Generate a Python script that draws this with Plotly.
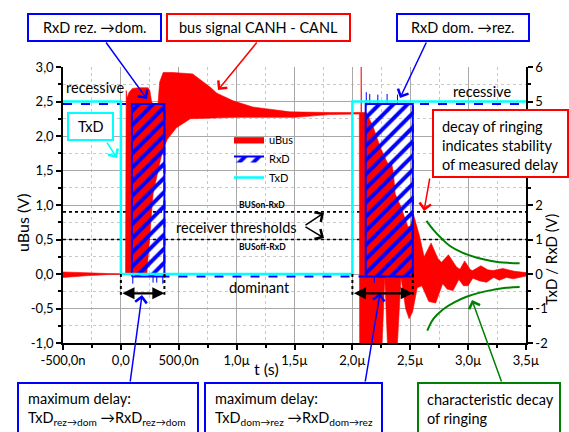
import plotly.graph_objects as go

# ---------------- data (time in µs, voltages in V) ----------------
# uBus = CANH - CANL, drawn as the envelope (max / min) of the dense ringing signal
ubus_t_max = [-0.5, -0.3, -0.1, 0.04, 0.046, 0.055, 0.07, 0.10, 0.16, 0.235, 0.25, 0.265, 0.28, 0.32,
              0.335, 0.365, 0.45, 0.62, 0.70, 0.77, 0.83, 0.97, 1.14, 1.46, 1.8, 2.074, 2.076, 2.079,
              2.12, 2.18, 2.24, 2.30, 2.325, 2.34, 2.355, 2.37, 2.42, 2.48, 2.50, 2.53, 2.58, 2.62,
              2.68, 2.74, 2.77, 2.83, 2.90, 2.93, 2.97, 3.02, 3.04, 3.11, 3.17, 3.215, 3.30, 3.33,
              3.40, 3.50]
ubus_max = [0.03, 0.015, 0.006, 0.004, 2.66, 2.55, 2.63, 2.69, 2.70, 2.70, 2.66, 2.50, 2.45, 2.45,
            2.78, 2.92, 2.92, 2.90, 2.80, 2.71, 2.62, 2.51, 2.42, 2.35, 2.34, 2.34, 3.2, 2.34,
            2.34, 2.13, 1.84, 1.62, 1.57, 1.60, 1.45, 1.16, 0.97, 0.68, 0.70, 0.85, 0.55, 0.25,
            0.45, 0.22, 0.17, 0.28, 0.10, 0.07, 0.19, 0.06, 0.05, 0.12, 0.06, 0.05, 0.08, 0.07,
            0.04, 0.02]
ubus_t_min = [-0.5, -0.3, -0.1, 0.04, 0.046, 0.224, 0.278, 0.34, 0.365, 0.40, 0.48, 0.60, 1.0, 1.5,
              1.8, 2.06, 2.063, 2.25, 2.28, 2.31, 2.38, 2.42, 2.46, 2.49, 2.52, 2.56, 2.60, 2.66,
              2.72, 2.78, 2.82, 2.87, 2.92, 2.96, 3.00, 3.04, 3.10, 3.16, 3.22, 3.27, 3.33, 3.39, 3.50]
ubus_min = [-0.05, -0.025, -0.008, -0.004, 0.0, 0.0, 1.16, 1.64, 1.80, 1.95, 2.12, 2.25, 2.27, 2.27,
            2.31, 2.32, -1.3, -1.3, -0.05, -1.3, -1.3, -0.05, -0.5, -0.65, -0.55, -0.2, -0.17, -0.4,
            -0.42, -0.14, -0.22, -0.24, -0.08, -0.17, -0.17, -0.06, -0.1, -0.12, -0.05, -0.09,
            -0.05, -0.07, -0.03]

# TxD and RxD (right axis)
txd_t = [-0.5, 0.0, 0.0, 2.0, 2.0, 3.5]
txd_v = [5.0, 5.0, 0.0, 0.0, 5.0, 5.0]
rxd_t = [-0.5, 0.376, 0.376, 2.522, 2.522, 3.5]
rxd_v = [4.93, 4.93, -0.07, -0.07, 4.93, 4.93]
rxd_win_start = [0.095, 2.115]
rxd_win_end = [0.376, 2.522]
rxd_win_high = 4.93
rxd_win_low = -0.07
rxd_glitch_t = [0.103, 0.278, 0.31, 0.362, 2.19, 2.12, 2.15, 2.22, 2.30, 2.39]
rxd_glitch_v = [-0.28, -0.25, -0.25, -0.28, -0.25, 5.27, 5.22, 5.2, 5.22, 5.2]

# characteristic decay of ringing (green guide curves)
green_up_t = [2.64, 2.70, 2.78, 2.84, 2.95, 3.07, 3.17, 3.27, 3.36, 3.445]
green_up_v = [0.77, 0.64, 0.50, 0.41, 0.31, 0.24, 0.20, 0.17, 0.16, 0.155]
green_lo_t = [2.647, 2.70, 2.785, 2.88, 2.986, 3.10, 3.215, 3.33, 3.445]
green_lo_v = [-0.82, -0.65, -0.51, -0.41, -0.33, -0.27, -0.23, -0.20, -0.19]

# receiver thresholds
thr_on = 0.9
thr_off = 0.5

# delays (TxD edge -> RxD edge)
delay_start = [0.0, 2.0]
delay_end = [0.376, 2.522]

# ticks
x_tickvals = [-0.5, 0.0, 0.5, 1.0, 1.5, 2.0, 2.5, 3.0, 3.5]
x_ticktext = ["-500,0n", "0,0", "500,0n", "1,0µ", "1,5µ", "2,0µ", "2,5µ", "3,0µ", "3,5µ"]
x_minor = [-0.25, 0.25, 0.75, 1.25, 1.75, 2.25, 2.75, 3.25]
y_tickvals = [-1.0, -0.5, 0.0, 0.5, 1.0, 1.5, 2.0, 2.5, 3.0]
y_ticktext = ["-1,0", "-0,5", "0,0", "0,5", "1,0", "1,5", "2,0", "2,5", "3,0"]
y_minor = [-0.75, -0.25, 0.25, 0.75, 1.25, 1.75, 2.25, 2.75]
y2_tickvals = [-2, -1, 0, 1, 2, 3, 4, 5, 6]
y2_ticktext = ["-2", "-1", "0", "1", "2", "", "", "5", "6"]   # 3 and 4 are hidden behind the callout box
y2_minor = [-1.5, -0.5, 0.5, 1.5, 2.5, 3.5, 4.5, 5.5]

# ---------------- figure ----------------
FONT = "Lato"
BLUE = "#0000ff"
RED = "#ff0000"
CYAN = "#00ffff"
GREEN = "#008000"

fig = go.Figure()

# thresholds (below signals)
for thr in (thr_on, thr_off):
    fig.add_trace(go.Scatter(x=[x_tickvals[0], x_tickvals[-1]], y=[thr, thr], mode="lines",
                             line=dict(color="black", width=1.6, dash="dot"),
                             showlegend=False, hoverinfo="skip"))

# uBus envelope polygon
fig.add_trace(go.Scatter(x=ubus_t_max + ubus_t_min[::-1], y=ubus_max + ubus_min[::-1],
                         mode="lines", fill="toself", fillcolor=RED,
                         line=dict(color=RED, width=0.6), name="uBus"))

# green decay curves
fig.add_trace(go.Scatter(x=green_up_t, y=green_up_v, mode="lines",
                         line=dict(color=GREEN, width=2, shape="spline"), showlegend=False))
fig.add_trace(go.Scatter(x=green_lo_t, y=green_lo_v, mode="lines",
                         line=dict(color=GREEN, width=2, shape="spline"), showlegend=False))

# RxD hatched windows (right axis)
wx, wy = [], []
for s, e in zip(rxd_win_start, rxd_win_end):
    wx += [s, s, e, e, s, None]
    wy += [rxd_win_low, rxd_win_high, rxd_win_high, rxd_win_low, rxd_win_low, None]
fig.add_trace(go.Scatter(x=wx, y=wy, yaxis="y2", mode="lines", fill="toself",
                         fillcolor="rgba(0,0,0,0)",
                         fillpattern=dict(shape="/", fgcolor=BLUE, bgcolor="rgba(0,0,0,0)",
                                          fgopacity=1, size=10, solidity=0.4),
                         line=dict(color=BLUE, width=2), name="RxD"))

# RxD line
fig.add_trace(go.Scatter(x=rxd_t, y=rxd_v, yaxis="y2", mode="lines",
                         line=dict(color=BLUE, width=2, dash="dash"), showlegend=False))
# RxD glitches
gx, gy = [], []
for t, v in zip(rxd_glitch_t, rxd_glitch_v):
    base = rxd_win_high if v > 2.5 else rxd_win_low
    gx += [t, t, None]
    gy += [base, v, None]
fig.add_trace(go.Scatter(x=gx, y=gy, yaxis="y2", mode="lines",
                         line=dict(color=BLUE, width=1), showlegend=False))

# TxD
fig.add_trace(go.Scatter(x=txd_t, y=txd_v, yaxis="y2", mode="lines",
                         line=dict(color=CYAN, width=2.5), name="TxD"))

# ---------------- layout helpers ----------------
L, R, T, B = 63, 526, 67, 343


def xp(px):
    return (px - L) / (R - L)


def yp(py):
    return (B - py) / (B - T)


shapes = []
annotations = []


def box(x0, y0, x1, y1, color):
    shapes.append(dict(type="rect", xref="paper", yref="paper", x0=xp(x0), x1=xp(x1),
                       y0=yp(y1), y1=yp(y0), line=dict(color=color, width=2),
                       fillcolor="white", layer="above"))


def text(x, y, s, size=14.5, xanchor="center", yanchor="middle", align="center", **kw):
    annotations.append(dict(x=xp(x), y=yp(y), xref="paper", yref="paper", text=s,
                            showarrow=False, xanchor=xanchor, yanchor=yanchor, align=align,
                            font=dict(family=FONT, size=size, color="black"), **kw))


def arrow(tx, ty, hx, hy, color, width=1.5, head=4, size=1.5):
    annotations.append(dict(x=xp(hx), y=yp(hy), xref="paper", yref="paper", text="",
                            showarrow=True, ax=tx - hx, ay=ty - hy, axref="pixel", ayref="pixel",
                            arrowhead=head, arrowsize=size, arrowwidth=width, arrowcolor=color,
                            standoff=0))


# callout boxes
box(28, 14, 161, 41, BLUE)
text(94.5, 27.5, "RxD rez. →dom.")
arrow(105, 41, 147, 99, BLUE)

box(167, 14, 350, 41, RED)
text(258.5, 27.5, "bus signal CANH - CANL")
arrow(258, 41, 218, 90, RED)

box(397, 14, 529, 41, BLUE)
text(463, 27.5, "RxD dom. →rez.")
arrow(427, 41, 400, 98, BLUE)

box(68, 113, 113, 140, CYAN)
text(90.5, 126.5, "TxD")
arrow(106, 141, 117, 158, CYAN)

box(433, 110, 568, 177, RED)
text(440, 145, "decay of ringing<br>indicates stability<br>of measured delay",
     xanchor="left", align="left")
arrow(430, 177, 424, 211, RED)

box(18, 383, 198, 445, BLUE)
text(26, 388, "maximum delay:<br>TxD<sub>rez→dom</sub> →RxD<sub>rez→dom</sub>",
     xanchor="left", yanchor="top", align="left")
arrow(130, 383, 142, 295, BLUE)

box(205, 383, 382, 445, BLUE)
text(213, 388, "maximum delay:<br>TxD<sub>dom→rez</sub> →RxD<sub>dom→rez</sub>",
     xanchor="left", yanchor="top", align="left")
arrow(365, 383, 380, 293, BLUE)

box(418, 383, 560, 445, GREEN)
text(425, 389, "characteristic decay<br>of ringing", xanchor="left", yanchor="top", align="left")
arrow(502, 383, 472, 300, GREEN)

# free texts
text(95, 87, "recessive")
text(482, 92, "recessive")
text(259, 287, "dominant")
text(236.5, 227, "receiver thresholds")
arrow(304, 226, 324, 213, "black", width=1.5)
arrow(304, 226, 324, 238, "black", width=1.5)
text(262, 205, "<b>BUSon-RxD</b>", size=8.5)
text(262, 247, "<b>BUSoff-RxD</b>", size=8.5)

# axis titles
text(22, 223, "uBus (V)", size=16, textangle=-90)
text(551, 260, "TxD / RxD (V)", size=15, textangle=-90)
text(266, 368, "t (s)", size=16)

# delay double arrows with dotted edge markers
for s, e in zip(delay_start, delay_end):
    annotations.append(dict(x=e, y=-0.28, xref="x", yref="y", ax=s, ay=-0.28, axref="x",
                            ayref="y", text="", showarrow=True, arrowside="end+start",
                            arrowhead=2, startarrowhead=2, arrowsize=1.1, startarrowsize=1.1,
                            arrowwidth=2.2, arrowcolor="black", standoff=0, startstandoff=0))
    for xv in (s, e):
        shapes.append(dict(type="line", xref="x", yref="y", x0=xv, x1=xv, y0=0.0, y1=-0.3,
                           line=dict(color="black", width=2, dash="dot"), layer="above"))

axis_common = dict(showline=True, linecolor="black", linewidth=1.5, ticks="outside",
                   ticklen=5, tickwidth=1.5, tickcolor="black", zeroline=False,
                   tickfont=dict(family=FONT, size=13, color="black"))

fig.update_layout(
    width=569, height=432,
    margin=dict(l=L, r=569 - R, t=T, b=432 - B),
    plot_bgcolor="white", paper_bgcolor="white",
    font=dict(family=FONT, size=13, color="black"),
    xaxis=dict(range=[-0.5, 3.5], tickmode="array", tickvals=x_tickvals, ticktext=x_ticktext,
               showgrid=True, gridcolor="#a8a8a8", gridwidth=1,
               minor=dict(tickmode="array", tickvals=x_minor, ticks="outside", ticklen=3,
                          tickcolor="black", showgrid=True, gridcolor="#c8c8c8", griddash="dot"),
               **axis_common),
    yaxis=dict(range=[-1.0, 3.0], tickmode="array", tickvals=y_tickvals, ticktext=y_ticktext,
               showgrid=True, gridcolor="#a8a8a8", gridwidth=1,
               minor=dict(tickmode="array", tickvals=y_minor, ticks="outside", ticklen=3,
                          tickcolor="black", showgrid=True, gridcolor="#c8c8c8", griddash="dot"),
               **axis_common),
    yaxis2=dict(range=[-2, 6], overlaying="y", side="right", tickmode="array",
                tickvals=y2_tickvals, ticktext=y2_ticktext, showgrid=False,
                minor=dict(tickmode="array", tickvals=y2_minor, ticks="outside", ticklen=3,
                           tickcolor="black"),
                **axis_common),
    showlegend=True,
    legend=dict(x=xp(229), y=yp(125), xanchor="left", yanchor="top",
                bgcolor="rgba(0,0,0,0)", font=dict(family=FONT, size=11, color="black"),
                itemwidth=30, tracegroupgap=0),
    shapes=shapes,
    annotations=annotations,
)

fig.write_html("out.html", config={"displayModeBar": False},
               post_script="document.body.style.margin='0px';")
